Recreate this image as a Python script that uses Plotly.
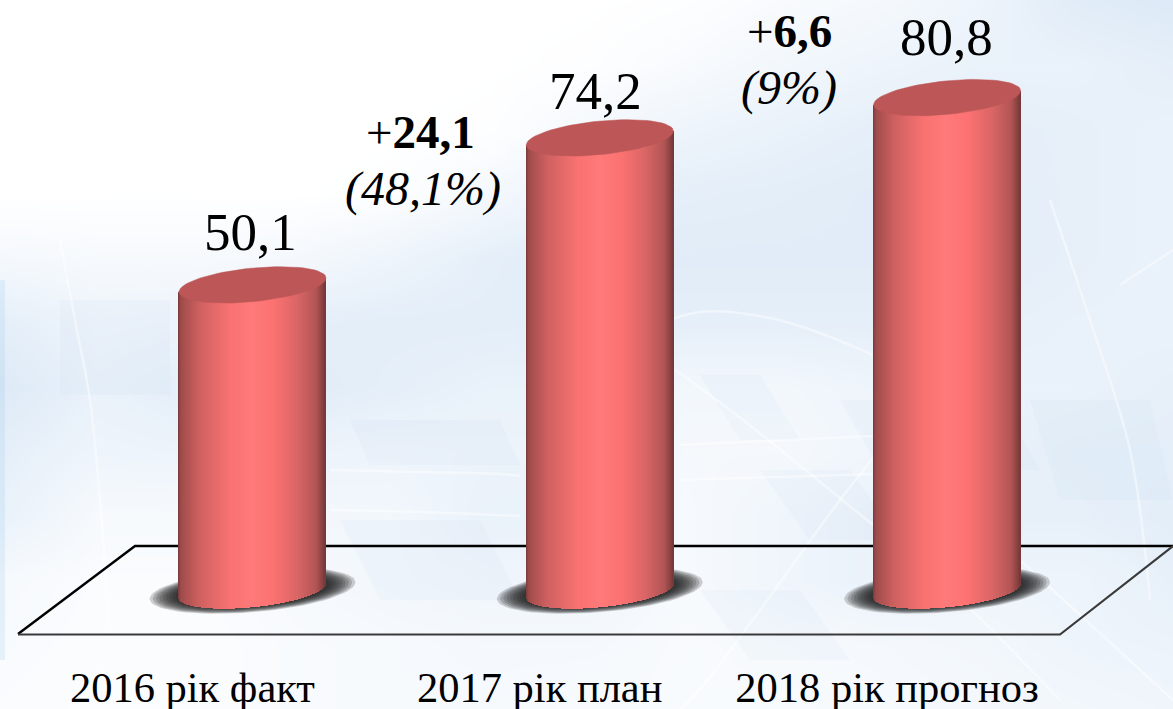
import numpy as np
import plotly.graph_objects as go

# ---- chart data ----
categories = ["2016 рік факт", "2017 рік план", "2018 рік прогноз"]
values = [50.1, 74.2, 80.8]
value_labels = ["50,1", "74,2", "80,8"]
delta_abs = ["+24,1", "+6,6"]
delta_pct = ["(48,1%)", "(9%)"]

# ---- geometry / style ----
W, H = 1173, 709
PPU = 6.1                  # px per value unit
BASE_PX = 590.5            # pixel row of value 0
CX0, DX = 252.5, 347.3     # pixel centre of first bar, spacing
HALF_W = 73.5 / DX         # half bar width in category units
PLOT_BOTTOM = 650
ELL_B, ELL_K = 16.8, -7.0  # ellipse half height / tilt (px)
SERIF = "Liberation Serif"

pos = np.arange(len(values), dtype=float)

def x_px(v):
    return (v - CX0) / DX

y_top_val = BASE_PX / PPU
y_bot_val = (BASE_PX - PLOT_BOTTOM) / PPU

# side shading, s in [-1, 1]
stops_s = [-1.0, -0.96, -0.72, -0.3, 0.0, 0.3, 0.62, 0.88, 0.97, 1.0]
stops_r = [122, 160, 206, 250, 255, 252, 218, 178, 135, 115]
stops_g = [58, 76, 96, 114, 122, 114, 102, 85, 64, 56]
stops_b = [58, 76, 96, 114, 122, 114, 102, 85, 64, 56]

def shade(s):
    return "rgb(%d,%d,%d)" % (np.interp(s, stops_s, stops_r),
                              np.interp(s, stops_s, stops_g),
                              np.interp(s, stops_s, stops_b))

fig = go.Figure()

# ---- background (tone map, in pixel axes x/y) ----
bg_tone = [
    [0, 0, 0, 0, 0, 0, 0, .02, .08, .12, .20, .35, .40],
    [0, 0, 0, 0, 0, 0, .02, .08, .15, .20, .25, .25, .30],
    [0, 0, 0, 0, 0, .02, .12, .20, .25, .30, .30, .28, .25],
    [0, 0, 0, 0, .02, .12, .25, .30, .32, .35, .32, .28, .25],
    [.12, .10, .10, .12, .20, .30, .35, .35, .35, .35, .32, .28, .25],
    [.30, .20, .22, .30, .32, .32, .30, .30, .30, .30, .28, .26, .25],
    [.40, .25, .32, .35, .30, .25, .25, .15, .15, .20, .25, .25, .28],
    [.30, .20, .22, .22, .20, .22, .22, .12, .12, .18, .25, .30, .30],
    [.25, .10, .10, .14, .15, .25, .25, .10, .18, .25, .28, .28, .32],
    [.10, .06, .06, .10, .15, .18, .18, .10, .18, .25, .20, .20, .28],
    [.08, .05, .05, .08, .10, .12, .12, .08, .10, .12, .15, .20, .22],
    [.06, .04, .05, .08, .10, .10, .08, .08, .08, .10, .12, .15, .18],
]
rows = len(bg_tone)
cols = len(bg_tone[0])
fig.add_trace(go.Heatmap(
    z=bg_tone,
    x=np.linspace(0, W, cols), y=np.linspace(0, H, rows),
    zmin=0, zmax=1, zsmooth="best", showscale=False, hoverinfo="skip",
    colorscale=[[0, "#ffffff"], [1, "#a9c9ea"]],
    xaxis="x", yaxis="y",
))

# faint tinted panels of the backdrop
panels = [
    ([700, 760, 800, 740], [375, 375, 440, 440]),
    ([760, 850, 900, 810], [470, 470, 540, 540]),
    ([840, 1000, 1040, 880], [400, 400, 470, 470]),
    ([350, 500, 520, 370], [420, 420, 465, 465]),
    ([340, 480, 520, 380], [520, 520, 600, 600]),
    ([700, 800, 850, 750], [590, 590, 660, 660]),
    ([1030, 1150, 1173, 1060], [400, 400, 500, 500]),
    ([60, 170, 170, 60], [300, 300, 395, 395]),
]
for px_, py_ in panels:
    fig.add_trace(go.Scatter(x=px_ + px_[:1], y=py_ + py_[:1], mode="lines", fill="toself",
                             fillcolor="rgba(170,200,232,0.07)", line=dict(width=0),
                             xaxis="x", yaxis="y", hoverinfo="skip", showlegend=False))

# faint white construction lines of the backdrop
deco = [
    ([640, 700, 770, 850, 930, 1000, 1010], [332, 312, 318, 345, 385, 440, 470]),
    ([640, 730, 830, 950, 1060], [345, 410, 490, 590, 700]),
    ([1000, 920, 840, 760, 690, 640], [300, 400, 500, 610, 700, 740]),
    ([330, 420, 500, 520], [470, 472, 474, 476]),
    ([330, 420, 520], [510, 512, 516]),
    ([60, 75, 90, 100, 110], [240, 320, 400, 500, 640]),
    ([1050, 1090, 1130, 1150], [200, 320, 450, 600]),
    ([1120, 1173], [285, 250]),
    ([680, 1000], [445, 430]),
    ([680, 1000], [480, 470]),
    ([1020, 1173], [560, 700]),
]
for dx_, dy_ in deco:
    fig.add_trace(go.Scatter(x=dx_, y=dy_, mode="lines", xaxis="x", yaxis="y",
                             line=dict(color="rgba(255,255,255,0.45)", width=2.5, shape="spline"),
                             hoverinfo="skip", showlegend=False))
# left edge stripe
fig.add_trace(go.Scatter(x=[0, 5, 5, 0, 0], y=[280, 280, 660, 660, 280], mode="lines",
                         fill="toself", fillcolor="rgba(160,205,235,0.22)",
                         line=dict(width=0), xaxis="x", yaxis="y",
                         hoverinfo="skip", showlegend=False))

# floor outline
fig.add_trace(go.Scatter(x=[1173, 135, 18], y=[546, 546, 634], mode="lines", xaxis="x", yaxis="y",
                         line=dict(color="#000000", width=2.4), hoverinfo="skip", showlegend=False))
fig.add_trace(go.Scatter(x=[18, 1060, 1173], y=[634.5, 634.5, 546], mode="lines", xaxis="x", yaxis="y",
                         line=dict(color="#3a3a3a", width=2.2), hoverinfo="skip", showlegend=False))

# ---- shadows under the bars (pixel axes, so they sit behind the bar layer) ----
t = np.linspace(0, 2 * np.pi, 80)
for p in pos:
    for scale in np.linspace(1.40, 1.05, 9):
        sx = CX0 + DX * p + scale * 73.5 * np.cos(t)
        sy = BASE_PX + scale * (ELL_K * 0.85 * np.cos(t) + 15.5 * np.sin(t))
        fig.add_trace(go.Scatter(x=sx, y=sy, mode="lines", fill="toself",
                                 fillcolor="rgba(25,25,25,0.2)", line=dict(width=0),
                                 xaxis="x", yaxis="y", hoverinfo="skip", showlegend=False))

# ---- cylinders: each bar is a run of one-pixel columns ----
strip_s = (np.arange(147) + 0.5) / 147 * 2 - 1
for p, v, name in zip(pos, values, categories):
    lean = ELL_K * strip_s
    half_chord = ELL_B * np.sqrt(1 - strip_s ** 2)
    tops = v - lean / PPU
    bases = -(lean + half_chord) / PPU
    fig.add_trace(go.Bar(
        x=p + strip_s * HALF_W, y=tops - bases, base=bases,
        width=2 * HALF_W / 147 * 1.02,
        marker=dict(color=[shade(s) for s in strip_s], line=dict(width=0)),
        xaxis="x2", yaxis="y2", name=name, showlegend=False,
        hovertemplate=f"{name}: {v}<extra></extra>",
    ))
    ex = p + HALF_W * np.cos(t)
    ey = v - (ELL_K * np.cos(t) + ELL_B * np.sin(t)) / PPU
    fig.add_trace(go.Scatter(x=ex, y=ey, mode="lines", fill="toself",
                             fillcolor="#bd5656", line=dict(color="#bd5656", width=0.5),
                             xaxis="x2", yaxis="y2", hoverinfo="skip", showlegend=False))

# ---- text ----
ann = []
value_shift = [53, 47, 61]
value_dx = [-2, -4, -1]
for p, v, lab, sh, d in zip(pos, values, value_labels, value_shift, value_dx):
    ann.append(dict(x=p, y=v, xref="x2", yref="y2", text=lab, showarrow=False,
                    yshift=sh, xshift=d, font=dict(family=SERIF, size=53, color="#000000")))

delta_anchor = [(1, values[1]), (2, values[2])]
abs_place = [(-179, 6), (-158, 67)]
pct_place = [(-177, -51), (-158, 10)]
for (p, v), a, b, (ax, ay), (bx, by) in zip(delta_anchor, delta_abs, delta_pct, abs_place, pct_place):
    sign, rest = a[0], a[1:]
    ann.append(dict(x=p, y=v, xref="x2", yref="y2", text=f"{sign}<b>{rest}</b>", showarrow=False,
                    xshift=ax, yshift=ay, font=dict(family=SERIF, size=47, color="#000000")))
    ann.append(dict(x=p, y=v, xref="x2", yref="y2", text=f"<i>{b}</i>", showarrow=False,
                    xshift=bx, yshift=by, font=dict(family=SERIF, size=48, color="#000000")))

fig.update_layout(
    width=W, height=H, margin=dict(l=0, r=0, t=0, b=0, autoexpand=False),
    paper_bgcolor="#ffffff", plot_bgcolor="rgba(0,0,0,0)",
    barmode="overlay", bargap=0, showlegend=False, annotations=ann,
    xaxis=dict(range=[0, W], domain=[0, 1], visible=False, fixedrange=True),
    yaxis=dict(range=[H, 0], domain=[0, 1], visible=False, fixedrange=True),
    xaxis2=dict(range=[x_px(0), x_px(W)], domain=[0, 1], anchor="y2", fixedrange=True,
                automargin=False, showgrid=False, zeroline=False, showline=False, ticks="",
                tickmode="array", tickvals=list(pos - 0.173), ticktext=categories,
                tickfont=dict(family=SERIF, size=42.5, color="#000000"),
                ticklabelstandoff=8),
    yaxis2=dict(range=[y_bot_val, y_top_val], domain=[1 - PLOT_BOTTOM / H, 1], anchor="x2",
                visible=False, fixedrange=True),
)

fig.write_html("out.html", config={"displayModeBar": False},
               post_script="document.body.style.margin='0';document.documentElement.style.overflow='hidden';")
